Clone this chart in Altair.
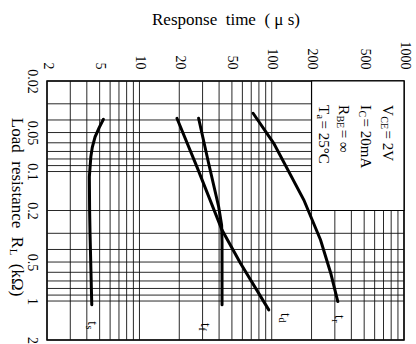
import altair as alt
import pandas as pd

# ---------------- values ----------------
x_grid = [2, 3, 4, 5, 6, 7, 8, 9, 10, 20, 30, 40, 50, 60, 70, 80, 90,
          100, 200, 300, 400, 500, 600, 700, 800, 900, 1000]
y_grid = [0.02, 0.03, 0.04, 0.05, 0.06, 0.07, 0.08, 0.09, 0.1,
          0.2, 0.3, 0.4, 0.5, 0.6, 0.7, 0.8, 0.9, 1, 2]
x_labels = [2, 5, 10, 20, 50, 100, 200, 500, 1000]
y_labels = [0.02, 0.05, 0.1, 0.2, 0.5, 1, 2]

ts_time = [5.34, 4.95, 4.62, 4.40, 4.29, 4.18, 4.20, 4.23, 4.30, 4.36]
ts_rl = [0.0395, 0.046, 0.054, 0.065, 0.077, 0.11, 0.2, 0.3, 0.6, 1.07]
td_time = [19.2, 27.2, 42.1, 57.9, 95]
td_rl = [0.0388, 0.092, 0.283, 0.509, 1.17]
tf_time = [28.0, 33.3, 39.7, 41.8, 42.1, 42.1]
tf_rl = [0.0388, 0.086, 0.187, 0.26, 0.35, 1.07]
tr_time = [72.3, 103.6, 175, 234, 279, 316]
tr_rl = [0.0355, 0.0606, 0.166, 0.338, 0.607, 1.01]

curve_subs = ["s", "d", "f", "r"]
label_time = [4.38, 127, 31.5, 320]
label_rl = [1.43, 1.24, 1.48, 1.28]

box_time = [200, 1000]
box_rl = [0.02, 0.2]

cond_main = ["V", "I", "R", "T"]
cond_sub = ["CE", "C", "BE", "a"]
cond_rest = ["= 2V", "= 20mA", "= ∞", "= 25°C"]
cond_time = [753, 513, 349, 247]
cond_rl = 0.0306

ytitle_parts = ["Load\u2002resistance\u2002R", "L", "(kΩ)"]
ytitle_time = 1.185
ytitle_rl = 0.0385

x_title = "Response\u2002time\u2002( μ s)"

# ---------------- styling ----------------
SERIF = "Liberation Serif"
W = {"V": 722, "I": 333, "R": 667, "T": 611, "C": 667, "E": 611, "B": 667,
     "a": 444, "=": 564, " ": 250, "\u2002": 500, "t": 278, "L": 611,
     "o": 500, "d": 500, "r": 333, "e": 444, "s": 389, "i": 278, "n": 500,
     "c": 444}


def tw(s, size):
    return sum(W.get(ch, 500) for ch in s) * size / 1000.0


XS = alt.Scale(type="log", domain=[2, 1000])
YS = alt.Scale(type="log", domain=[0.02, 2], reverse=True)

X = alt.X("t:Q", scale=XS, axis=alt.Axis(
    orient="top", values=x_labels, format="~g", labelAngle=90,
    labelAlign="right", labelBaseline="middle", ticks=False, tickSize=0,
    domain=False, grid=False, labelFont=SERIF, labelFontSize=14,
    labelColor="black", labelPadding=12, labelOverlap=False,
    labelFlush=False, title=x_title, titleFont=SERIF, titleFontSize=17,
    titleFontWeight="normal", titleColor="black", titlePadding=13))
Y = alt.Y("R:Q", scale=YS, axis=alt.Axis(
    orient="left", values=y_labels, format="~g", labelAngle=90,
    labelAlign="center", labelBaseline="top", ticks=False, tickSize=0,
    domain=False, grid=False, labelFont=SERIF, labelFontSize=14,
    labelColor="black", labelPadding=9, labelOverlap=False,
    labelFlush=False, title=None))

# ---------------- layers ----------------
vgrid = alt.Chart(pd.DataFrame({"t": x_grid})).mark_rule(
    color="#111", strokeWidth=0.9).encode(x=X)
hgrid = alt.Chart(pd.DataFrame({"R": y_grid})).mark_rule(
    color="#111", strokeWidth=0.9).encode(y=Y)

box = alt.Chart(pd.DataFrame({"t": [box_time[0]], "t2": [box_time[1]],
                              "R": [box_rl[0]], "R2": [box_rl[1]]})).mark_rect(
    fill="white", stroke="black", strokeWidth=1.2).encode(
    x=X, x2="t2:Q", y=Y, y2="R2:Q")

rows = []
for name, tt, rr in [("s", ts_time, ts_rl), ("d", td_time, td_rl),
                     ("f", tf_time, tf_rl), ("r", tr_time, tr_rl)]:
    for i, (a, b) in enumerate(zip(tt, rr)):
        rows.append({"curve": name, "i": i, "t": a, "R": b})
curves = alt.Chart(pd.DataFrame(rows)).mark_line(
    color="black", strokeWidth=3, strokeCap="round").encode(
    x=X, y=Y, detail="curve:N", order="i:Q")


def rtext(df, size, dx=0.0, dy=0.0):
    return alt.Chart(df).mark_text(
        angle=90, align="left", baseline="middle", font=SERIF,
        fontSize=size, color="black", dx=dx, dy=dy).encode(
        x=X, y=Y, text="label:N")


layers = [vgrid, hgrid, box, curves]

# curve labels t_s, t_d, t_f, t_r
lab_df = pd.DataFrame({"t": label_time, "R": label_rl, "label": ["t"] * 4})
sub_df = pd.DataFrame({"t": label_time, "R": label_rl, "label": curve_subs})
layers.append(rtext(lab_df, 14))
layers.append(rtext(sub_df, 10, dx=tw("t", 14) + 0.5, dy=3.5))

# condition block
main_df = pd.DataFrame({"t": cond_time, "R": [cond_rl] * 4, "label": cond_main})
layers.append(rtext(main_df, 15))
for k in range(4):
    one = pd.DataFrame({"t": [cond_time[k]], "R": [cond_rl], "label": [cond_sub[k]]})
    layers.append(rtext(one, 10, dx=tw(cond_main[k], 15) + 0.5, dy=4))
    rest = pd.DataFrame({"t": [cond_time[k]], "R": [cond_rl], "label": [cond_rest[k]]})
    layers.append(rtext(rest, 15, dx=tw(cond_main[k], 15) + tw(cond_sub[k], 10) + 2))

# left (rotated) axis title with subscript
p0 = pd.DataFrame({"t": [ytitle_time], "R": [ytitle_rl], "label": [ytitle_parts[0]]})
p1 = pd.DataFrame({"t": [ytitle_time], "R": [ytitle_rl], "label": [ytitle_parts[1]]})
p2 = pd.DataFrame({"t": [ytitle_time], "R": [ytitle_rl], "label": [ytitle_parts[2]]})
w0 = tw(ytitle_parts[0], 17)
layers.append(rtext(p0, 17))
layers.append(rtext(p1, 11, dx=w0 + 0.5, dy=4))
layers.append(rtext(p2, 17, dx=w0 + tw("L", 11) + 9))

chart = alt.layer(*layers).properties(
    width=357, height=259,
    padding={"left": 47, "top": 81, "right": 12, "bottom": 4},
    autosize=alt.AutoSizeParams(type="none"),
    background="white",
).configure_view(stroke="black", strokeWidth=1.5)

chart.save("out.html", embed_options={"renderer": "svg", "actions": False})
